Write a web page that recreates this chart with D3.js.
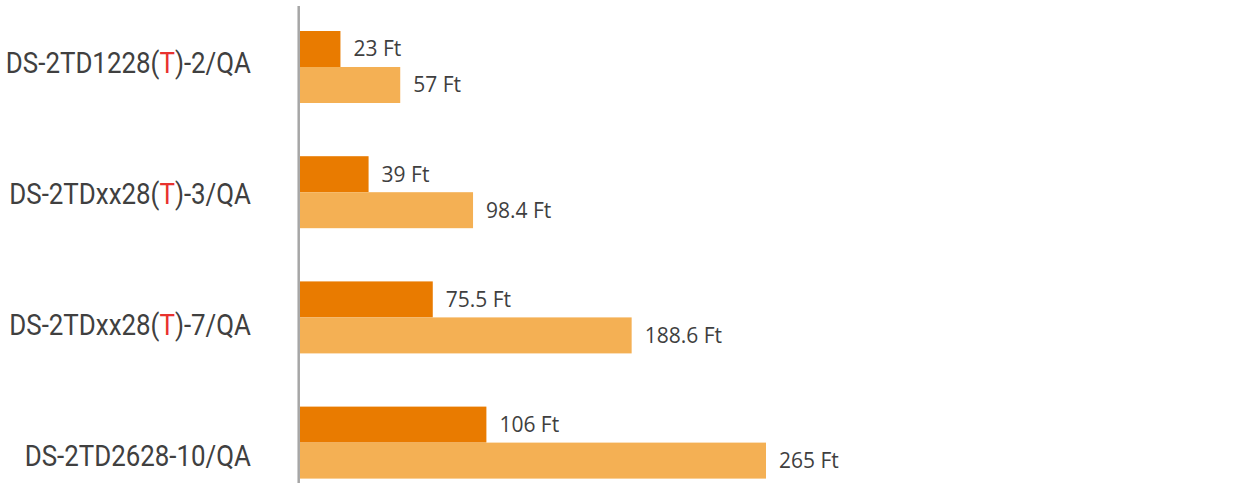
<!DOCTYPE html>
<html lang="en">
<head>
    <meta charset="UTF-8">
    <title>Detection range</title>
    <script src="https://d3js.org/d3.v7.min.js"></script>
    <style>
        body { margin: 0; background: #fff; }
        .cat-label { font-family: Roboto, sans-serif; font-size: 29px; fill: #404040; }
        .val-label { font-family: "Open Sans", sans-serif; font-size: 21px; fill: #3f3f3f; }
    </style>
</head>
<body>
<div id="chart"></div>
<script>
    const models = ["DS-2TD1228(T)-2/QA", "DS-2TDxx28(T)-3/QA", "DS-2TDxx28(T)-7/QA", "DS-2TD2628-10/QA"];
    const series = ["near", "far"];
    const nearFt = [23, 39, 75.5, 106];
    const farFt = [57, 98.4, 188.6, 265];
    const colors = ["#E97B00", "#F4B054"];

    const width = 1251, height = 483;

    const svg = d3.select("#chart").append("svg")
        .attr("width", width)
        .attr("height", height);

    let x = d3.scaleLinear()
        .domain([0, 265])
        .range([300, 766]);

    let y = d3.scaleBand()
        .domain(models)
        .range([31, 478.6])
        .paddingInner(0.425)
        .paddingOuter(0);

    let ySub = d3.scaleBand()
        .domain(series)
        .range([0, y.bandwidth()]);

    // labels sit a bit lower than the bars in the original
    let yLabel = d3.scalePoint()
        .domain(models)
        .range([73.3, 465.7]);

    let color = d3.scaleOrdinal().domain(series).range(colors);

    let rows = [];
    models.forEach((m, i) => {
        rows.push({model: m, key: "near", value: nearFt[i]});
        rows.push({model: m, key: "far", value: farFt[i]});
    });

    svg.selectAll("rect.bar")
        .data(rows)
        .enter()
        .append("rect")
        .attr("class", "bar")
        .attr("x", x(0))
        .attr("y", d => y(d.model) + ySub(d.key))
        .attr("width", d => x(d.value) - x(0))
        .attr("height", ySub.bandwidth())
        .attr("fill", d => color(d.key));

    svg.selectAll("text.val-label")
        .data(rows)
        .enter()
        .append("text")
        .attr("class", "val-label")
        .attr("x", d => x(d.value) + 13)
        .attr("y", d => y(d.model) + ySub(d.key) + ySub.bandwidth() / 2 + 7.5)
        .text(d => `${d.value} Ft`);

    // vertical axis line
    svg.append("line")
        .attr("x1", 298.7).attr("x2", 298.7)
        .attr("y1", 6).attr("y2", height)
        .attr("stroke", "#A6A6A6")
        .attr("stroke-width", 2.5);

    // category labels, condensed look, with red T
    let labels = svg.selectAll("g.cat")
        .data(models)
        .enter()
        .append("g")
        .attr("class", "cat")
        .attr("transform", d => `translate(251,${yLabel(d)}) scale(0.893,1)`);

    let txt = labels.append("text")
        .attr("class", "cat-label")
        .attr("text-anchor", "end");

    txt.each(function(d) {
        let t = d3.select(this);
        let parts = d.split("(T)");
        if (parts.length > 1) {
            t.append("tspan").text(parts[0] + "(");
            t.append("tspan").attr("fill", "#E8322F").text("T");
            t.append("tspan").text(")" + parts[1]);
        } else {
            t.append("tspan").text(d);
        }
    });
</script>
</body>
</html>
